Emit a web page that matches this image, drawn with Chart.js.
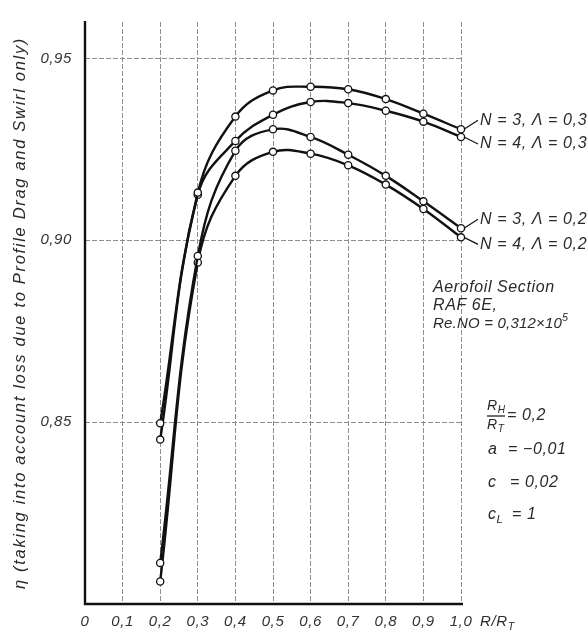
<!DOCTYPE html>
<html><head><meta charset="utf-8">
<script src="https://cdn.jsdelivr.net/npm/chart.js@4"></script>
<style>html,body{margin:0;padding:0;background:#fff}#wrap{width:588px;height:634px;position:relative}</style>
</head><body><div id="wrap"><canvas id="c" width="588" height="634"></canvas></div>
<script>
// ---- data ----
const radiusRatio = [0.2, 0.3, 0.4, 0.5, 0.6, 0.7, 0.8, 0.9, 1.0];
const etaN3L03 = [0.8497, 0.9131, 0.9340, 0.9412, 0.9422, 0.9415, 0.9388, 0.9348, 0.9305];
const etaN4L03 = [0.8452, 0.9125, 0.9273, 0.9345, 0.9380, 0.9377, 0.9356, 0.9326, 0.9284];
const etaN3L02 = [0.8113, 0.8957, 0.9246, 0.9305, 0.9284, 0.9235, 0.9177, 0.9107, 0.9033];
const etaN4L02 = [0.8062, 0.8939, 0.9177, 0.9243, 0.9238, 0.9206, 0.9153, 0.9086, 0.9008];
const seriesLabels = ['N = 3, \u039B = 0,3', 'N = 4, \u039B = 0,3', 'N = 3, \u039B = 0,2', 'N = 4, \u039B = 0,2'];
const xTicks = [0, 0.1, 0.2, 0.3, 0.4, 0.5, 0.6, 0.7, 0.8, 0.9, 1.0];
const yTicks = [0.85, 0.90, 0.95];
const yTitle = '\u03B7 (taking into account loss due to Profile Drag and Swirl only)';

const FONT = '"Liberation Sans", Arial, sans-serif';
const INK = '#2a2a2a';
function setFont(ctx, size) { ctx.font = 'italic ' + size + 'px ' + FONT; }
function spacing(ctx, s) { try { ctx.letterSpacing = s + 'px'; } catch (e) {} }
function drawParts(ctx, x, y, parts, size) {
  let cx = x;
  for (const p of parts) {
    if (p.sub) { setFont(ctx, size * 0.72); ctx.fillText(p.t, cx, y + size * 0.32); }
    else if (p.sup) { setFont(ctx, size * 0.72); ctx.fillText(p.t, cx, y - size * 0.42); }
    else { setFont(ctx, size); ctx.fillText(p.t, cx, y); }
    cx += ctx.measureText(p.t).width;
  }
  return cx;
}

const decor = {
  id: 'decor',
  beforeDraw(chart) { spacing(chart.ctx, 0.6); },
  beforeDatasetsDraw(chart) {
    const ctx = chart.ctx, a = chart.chartArea;
    ctx.save();
    ctx.strokeStyle = '#111';
    ctx.lineWidth = 2.4;
    ctx.beginPath();
    ctx.moveTo(a.left, a.top - 1); ctx.lineTo(a.left, a.bottom);
    ctx.lineTo(a.right + 2, a.bottom);
    ctx.stroke();
    ctx.restore();
  },
  afterDraw(chart) {
    const ctx = chart.ctx, a = chart.chartArea;
    ctx.save();
    ctx.fillStyle = INK; ctx.strokeStyle = '#111';
    ctx.textBaseline = 'middle'; ctx.textAlign = 'left';
    // curve labels with leader lines
    spacing(ctx, 0.6);
    seriesLabels.forEach((lab, i) => {
      const pts = chart.getDatasetMeta(i).data;
      const p = pts[pts.length - 1];
      const ly = p.y + (i % 2 === 0 ? -9 : 7);
      ctx.lineWidth = 1.2;
      ctx.beginPath(); ctx.moveTo(p.x + 3, p.y); ctx.lineTo(a.right + 17, ly); ctx.stroke();
      setFont(ctx, 16);
      ctx.fillText(lab, a.right + 19, ly);
    });
    // annotation block
    setFont(ctx, 16);
    ctx.fillText('Aerofoil Section', 433, 288);
    ctx.fillText('RAF 6E,', 433, 306);
    spacing(ctx, 0.2);
    drawParts(ctx, 433, 324, [{t: 'Re.NO = 0,312\u00D710'}, {t: '5', sup: true}], 15);
    spacing(ctx, 0.6);
    // fraction R_H / R_T
    drawParts(ctx, 487, 406, [{t: 'R'}, {t: 'H', sub: true}], 14);
    ctx.lineWidth = 1.2;
    ctx.beginPath(); ctx.moveTo(487, 416); ctx.lineTo(505, 416); ctx.stroke();
    drawParts(ctx, 487, 425, [{t: 'R'}, {t: 'T', sub: true}], 14);
    setFont(ctx, 16);
    ctx.fillText('= 0,2', 507, 416);
    ctx.fillText('a', 488, 450); ctx.fillText('= \u22120,01', 508, 450);
    ctx.fillText('c', 488, 483); ctx.fillText('= 0,02', 510, 483);
    drawParts(ctx, 488, 515, [{t: 'c'}, {t: 'L', sub: true}], 16);
    setFont(ctx, 16);
    ctx.fillText('= 1', 512, 515);
    // x axis unit
    drawParts(ctx, 480, 622, [{t: 'R/R'}, {t: 'T', sub: true}], 15);
    // y axis title
    spacing(ctx, 0);
    setFont(ctx, 16.5);
    const w0 = ctx.measureText(yTitle).width;
    const s = Math.max(0, (552 - w0) / yTitle.length);
    spacing(ctx, s);
    ctx.translate(20, 313);
    ctx.rotate(-Math.PI / 2);
    ctx.textAlign = 'center';
    ctx.fillText(yTitle, 0, 0);
    ctx.restore();
  }
};

function mk(arr) { return radiusRatio.map((x, i) => ({x: x, y: arr[i]})); }
const lineStyle = {
  borderColor: '#111', borderWidth: 2.4, tension: 0.4, fill: false,
  pointRadius: 3.6, pointBackgroundColor: '#fff', pointBorderColor: '#111', pointBorderWidth: 1.3,
  clip: false
};
const tickFont = {family: FONT, size: 15, style: 'italic'};

new Chart(document.getElementById('c'), {
  type: 'line',
  data: {
    datasets: [
      Object.assign({label: seriesLabels[0], data: mk(etaN3L03)}, lineStyle),
      Object.assign({label: seriesLabels[1], data: mk(etaN4L03)}, lineStyle),
      Object.assign({label: seriesLabels[2], data: mk(etaN3L02)}, lineStyle),
      Object.assign({label: seriesLabels[3], data: mk(etaN4L02)}, lineStyle)
    ]
  },
  options: {
    responsive: false, animation: false, devicePixelRatio: 1,
    layout: {padding: {top: 6, right: 127, left: 0, bottom: 0}},
    plugins: {legend: {display: false}, tooltip: {enabled: false}},
    scales: {
      x: {
        type: 'linear', min: 0, max: 1,
        afterBuildTicks: s => { s.ticks = xTicks.map(v => ({value: v})); },
        afterFit: s => { s.height = 30; },
        grid: {color: '#8f8f8f', lineWidth: 1, drawTicks: false},
        border: {display: false, dash: [5, 2]},
        ticks: {padding: 9, autoSkip: false, maxRotation: 0, color: '#333', font: tickFont,
          callback: v => v === 0 ? '0' : v.toFixed(1).replace('.', ',')}
      },
      y: {
        type: 'linear', min: 0.80, max: 0.96,
        afterBuildTicks: s => { s.ticks = yTicks.map(v => ({value: v})); },
        afterFit: s => { s.width = 85; },
        grid: {color: '#8f8f8f', lineWidth: 1, drawTicks: false},
        border: {display: false, dash: [5, 2]},
        ticks: {padding: 13, color: '#333', font: tickFont,
          callback: v => v.toFixed(2).replace('.', ',')}
      }
    }
  },
  plugins: [decor]
});
</script></body></html>
